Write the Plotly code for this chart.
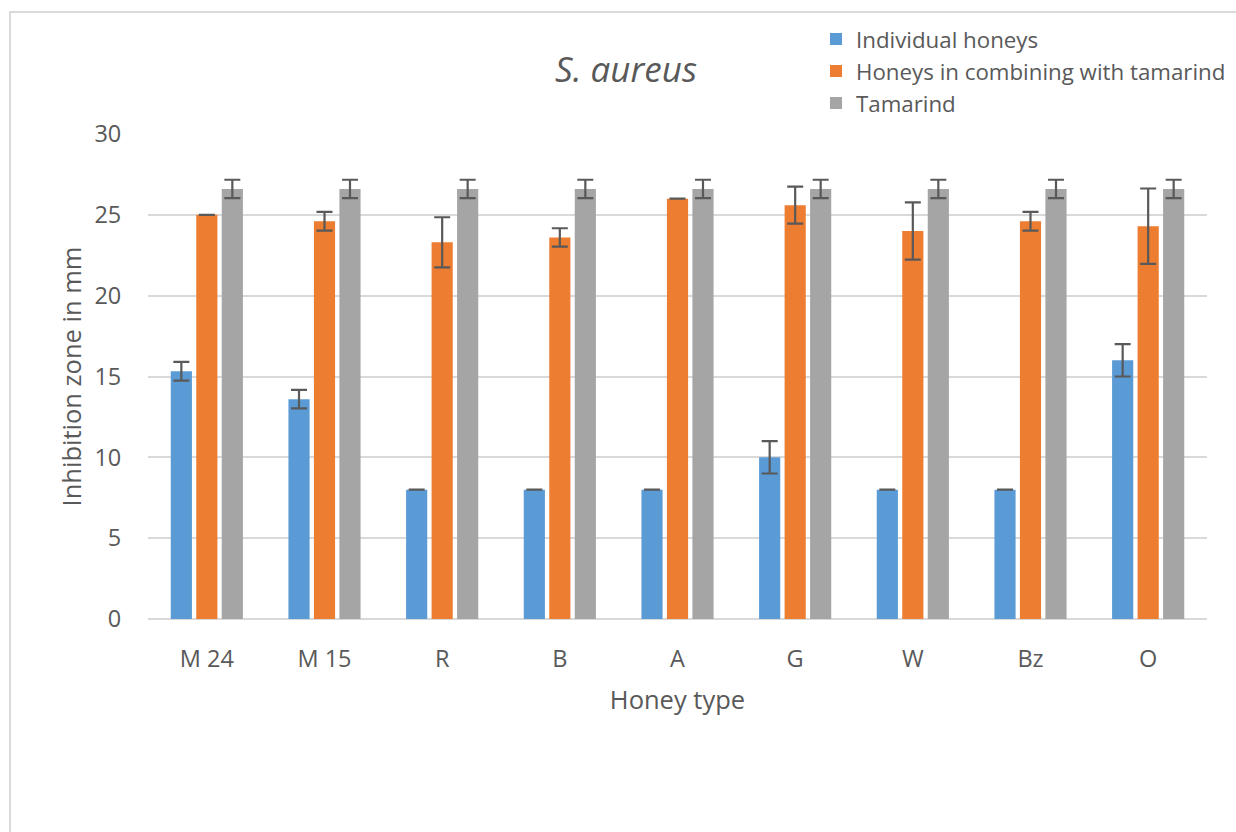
import plotly.graph_objects as go

categories = ["M 24", "M 15", "R", "B", "A", "G", "W", "Bz", "O"]

individual = [15.33, 13.6, 8, 8, 8, 10, 8, 8, 16]
individual_err = [0.58, 0.57, 0, 0, 0, 1.0, 0, 0, 1.0]

combined = [25, 24.6, 23.3, 23.6, 26, 25.6, 24, 24.6, 24.3]
combined_err = [0, 0.58, 1.55, 0.57, 0, 1.15, 1.77, 0.58, 2.33]

tamarind = [26.6, 26.6, 26.6, 26.6, 26.6, 26.6, 26.6, 26.6, 26.6]
tamarind_err = [0.57, 0.57, 0.57, 0.57, 0.57, 0.57, 0.57, 0.57, 0.57]

series = [
    ("Individual honeys", individual, individual_err, "#5B9BD5"),
    ("Honeys in combining with tamarind", combined, combined_err, "#ED7D31"),
    ("Tamarind", tamarind, tamarind_err, "#A5A5A5"),
]

FONT = "Open Sans"
TXT = "#595959"

fig = go.Figure()
for name, vals, errs, col in series:
    fig.add_trace(go.Bar(
        name=name, x=categories, y=vals,
        marker=dict(color=col, line=dict(width=0)),
        error_y=dict(type="data", array=errs, visible=True,
                     color="#595959", thickness=2.2, width=8),
    ))

W, H = 1236, 832
L, R, T, B = 148, 29, 134, 213
pw, ph = W - L - R, H - T - B

def px(x):
    return (x - L) / pw

def py(y):
    return (H - B - y) / ph

fig.update_layout(
    width=W, height=H,
    margin=dict(l=L, r=R, t=T, b=B, autoexpand=False),
    paper_bgcolor="white", plot_bgcolor="white",
    font=dict(family=FONT, color=TXT, size=23),
    barmode="group", bargap=0.35, bargroupgap=0.17,
    title=dict(text="<i>S. aureus</i>", x=626 / W, xanchor="center",
               y=1 - 70 / H, yanchor="middle",
               font=dict(family=FONT, size=35, color=TXT)),
    legend=dict(x=px(816), y=py(18), xanchor="left", yanchor="top",
                font=dict(family=FONT, size=22.3, color=TXT),
                bgcolor="rgba(0,0,0,0)", itemwidth=30, tracegroupgap=0,
                traceorder="normal"),
    showlegend=True,
    xaxis=dict(
        showgrid=False, showline=False, zeroline=False,
        ticks="outside", ticklen=19, tickcolor="rgba(0,0,0,0)",
        tickfont=dict(family=FONT, size=23.5, color=TXT),
        title=dict(text="Honey type", standoff=17,
                   font=dict(family=FONT, size=25.5, color=TXT)),
    ),
    yaxis=dict(
        range=[0, 30], dtick=5,
        showgrid=True, gridcolor="#D9D9D9", gridwidth=2,
        zeroline=True, zerolinecolor="#D9D9D9", zerolinewidth=2,
        showline=False,
        ticks="outside", ticklen=21, tickcolor="rgba(0,0,0,0)",
        tickfont=dict(family=FONT, size=23.5, color=TXT),
        title=dict(text="Inhibition zone in mm", standoff=5,
                   font=dict(family=FONT, size=25.5, color=TXT)),
    ),
)

fig.add_shape(type="rect", xref="paper", yref="paper",
              x0=px(10), x1=px(1300), y0=py(900), y1=py(12),
              line=dict(color="#D9D9D9", width=2), fillcolor="rgba(0,0,0,0)",
              layer="below")

fig.write_html("out.html",
               config={"displayModeBar": False},
               post_script="document.body.style.margin='0';document.body.style.overflow='hidden';")
